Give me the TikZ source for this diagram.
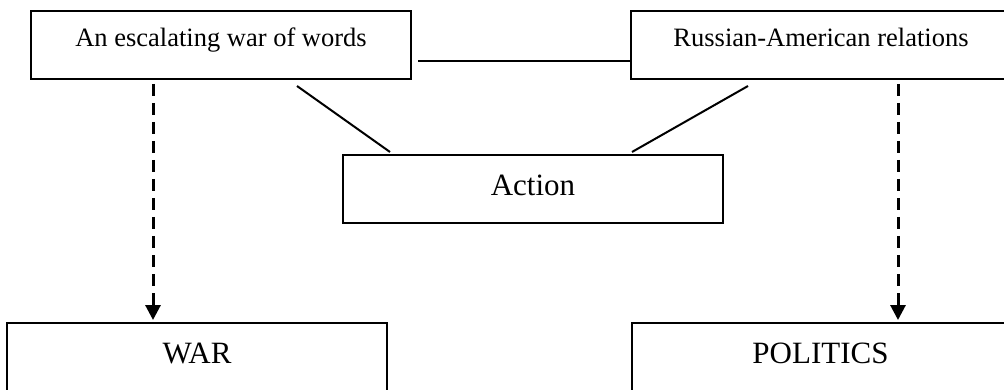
\documentclass[tikz,border=0pt]{standalone}
\usepackage{fontspec}
\setmainfont{Liberation Serif}
\usetikzlibrary{arrows.meta}
\begin{document}
\begin{tikzpicture}[x=1pt,y=-1pt,
  box/.style={draw, line width=2pt, inner sep=0pt, anchor=base},
  small/.style={font=\fontsize{26.5}{30}\selectfont},
  large/.style={font=\fontsize{31}{36}\selectfont},
  link/.style={line width=2pt},
  flow/.style={line width=3pt, dash pattern=on 12pt off 7pt,
    -{Triangle[width=15pt,length=15pt]}}]
\useasboundingbox (0,0) rectangle (1004,390);
\clip (0,0) rectangle (1004,390);

% upper concepts
\node[box, small, minimum width=380pt, text height=36pt, text depth=32pt]
  (words) at (221,47) {An escalating war of words};
\node[box, small, minimum width=380pt, text height=36pt, text depth=32pt]
  (relations) at (821,47) {Russian-American relations};

% middle concept
\node[box, large, minimum width=380pt, text height=41pt, text depth=27pt]
  (action) at (533,196) {Action};

% lower domains
\node[box, large, minimum width=380pt, text height=40pt, text depth=30pt]
  (war) at (197,363) {WAR};
\node[box, large, minimum width=377pt, text height=40pt, text depth=30pt]
  (politics) at (820.5,363) {POLITICS};

% links between concepts
\draw[link] ([shift={(6,16)}]words.east) -- ([shift={(0,16)}]relations.west);
\draw[link] ([shift={(76,6)}]words.south) -- ([shift={(-143,-2)}]action.north);
\draw[link] ([shift={(-73,6)}]relations.south) -- ([shift={(99,-2)}]action.north);

% mappings to domains
\draw[flow] ([shift={(-68,4)}]words.south) -- ([shift={(-44,-2)}]war.north);
\draw[flow] ([shift={(77,4)}]relations.south) -- ([shift={(77.5,-2)}]politics.north);
\end{tikzpicture}
\end{document}
